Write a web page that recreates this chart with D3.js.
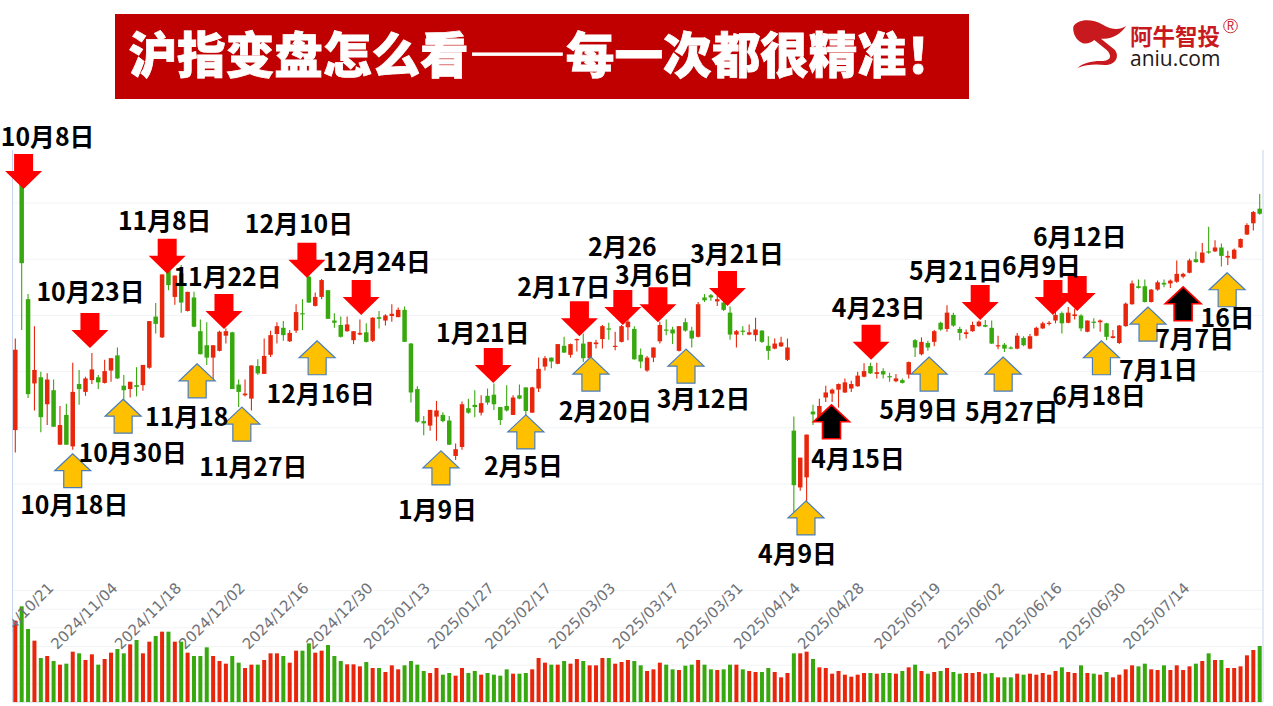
<!DOCTYPE html>
<html lang="zh">
<head>
<meta charset="utf-8">
<style>
html,body{margin:0;padding:0;background:#fff;overflow:hidden}
svg{display:block}
text{font-family:"Noto Sans CJK SC","Noto Sans",sans-serif}
</style>
<script src="https://cdn.jsdelivr.net/npm/d3@7/dist/d3.min.js"></script>
</head>
<body>
<svg id="chart" width="1273" height="706"></svg>
<script>
const titleText = "沪指变盘怎么看——每一次都很精准！";

const openValues = [3195,3674,3428,3278,3289,3241,3266,3169,3222,3166,
3277,3263,3284,3289,3279,3301,3328,3274,3268,3275,
3275,3306,3397,3360,3479,3432,3474,3407,3431,3371,
3346,3324,3336,3363,3369,3276,3257,3251,3309,3295,
3329,3366,3377,3353,3372,3403,3468,3416,3432,3444,
3390,3382,3371,3355,3365,3369,3354,3396,3390,3398,
3396,3409,3349,3268,3211,3203,3219,3222,3212,3149,
3165,3234,3240,3226,3256,3258,3236,3238,3222,3257,
3271,3226,3269,3308,3324,3313,3345,3329,3355,3349,
3323,3348,3357,3376,3344,3352,3378,3375,3329,3301,
3324,3353,3374,3374,3336,3387,3372,3361,3431,3435,
3424,3422,3404,3365,3372,3365,3364,3372,3345,3340,
3344,3320,3194,3093,3111,3228,3216,3253,3260,3267,
3262,3269,3273,3290,3309,3295,3300,3291,3282,3284,
3294,3355,3330,3350,3352,3386,3375,3400,3375,3366,
3371,3380,3382,3377,3344,3347,3342,3340,3359,3340,
3363,3376,3384,3390,3403,3386,3398,3399,3370,3388,
3387,3385,3359,3350,3380,3419,3451,3451,3423,3445,
3457,3456,3459,3468,3475,3499,3493,3513,3513,3520,
3502,3500,3520,3543,3563,3589];

const closeValues = [3338,3492,3259,3302,3218,3285,3201,3204,3169,3263,
3268,3287,3303,3280,3300,3323,3287,3266,3281,3272,
3311,3389,3384,3472,3453,3470,3422,3441,3379,3330,
3324,3346,3370,3371,3268,3263,3260,3310,3296,3327,
3364,3380,3364,3368,3405,3402,3422,3432,3462,3393,
3386,3361,3383,3371,3368,3352,3395,3393,3399,3402,
3409,3352,3262,3210,3207,3231,3230,3211,3169,3161,
3241,3226,3236,3243,3244,3241,3213,3230,3253,3251,
3229,3271,3304,3323,3317,3348,3333,3348,3357,3323,
3352,3351,3380,3374,3345,3380,3388,3321,3317,3324,
3342,3382,3372,3367,3380,3372,3358,3419,3426,3431,
3428,3409,3365,3371,3370,3369,3374,3352,3336,3349,
3351,3342,3097,3146,3187,3223,3238,3262,3267,3277,
3280,3277,3292,3300,3296,3298,3294,3289,3287,3279,
3316,3342,3352,3342,3371,3374,3404,3381,3368,3369,
3382,3388,3379,3349,3346,3340,3340,3363,3346,3362,
3377,3385,3386,3400,3385,3404,3401,3376,3390,3386,
3390,3361,3362,3381,3420,3456,3448,3423,3445,3458,
3454,3461,3473,3473,3497,3494,3511,3511,3520,3505,
3505,3516,3535,3560,3583,3580];

const highValues = [3358,3674,3437,3380,3299,3296,3285,3238,3242,3315,
3302,3290,3332,3293,3320,3323,3342,3293,3281,3307,
3311,3389,3421,3472,3486,3470,3489,3441,3441,3392,
3387,3346,3372,3376,3370,3285,3285,3310,3321,3358,
3372,3387,3389,3373,3419,3428,3471,3440,3464,3444,
3403,3397,3397,3371,3392,3385,3396,3407,3401,3419,
3413,3415,3350,3273,3220,3231,3247,3227,3220,3171,
3246,3251,3266,3257,3269,3278,3236,3275,3257,3276,
3271,3272,3324,3327,3324,3348,3361,3349,3358,3367,
3352,3356,3382,3386,3370,3382,3394,3380,3340,3327,
3342,3388,3392,3379,3380,3394,3379,3423,3437,3437,
3435,3426,3415,3373,3380,3383,3395,3373,3362,3358,
3361,3358,3219,3146,3187,3240,3251,3274,3269,3278,
3287,3283,3299,3314,3315,3315,3305,3297,3295,3287,
3317,3357,3360,3354,3373,3388,3417,3404,3379,3374,
3388,3390,3391,3390,3363,3350,3344,3368,3362,3366,
3379,3388,3389,3406,3406,3414,3411,3401,3390,3394,
3392,3386,3373,3382,3422,3461,3463,3463,3446,3461,
3463,3463,3497,3475,3500,3513,3528,3557,3533,3527,
3514,3518,3536,3563,3585,3615];

const lowValues = [3155,3373,3252,3230,3191,3204,3201,3169,3169,3160,
3240,3256,3277,3268,3278,3281,3286,3249,3253,3255,
3265,3304,3367,3359,3444,3418,3404,3406,3378,3330,
3311,3284,3335,3349,3268,3236,3255,3230,3293,3295,
3325,3349,3354,3352,3368,3373,3421,3415,3428,3393,
3377,3360,3370,3348,3364,3351,3352,3376,3381,3388,
3396,3352,3244,3208,3186,3194,3176,3209,3169,3142,
3160,3224,3218,3221,3240,3231,3204,3228,3222,3250,
3222,3226,3263,3301,3305,3312,3332,3324,3335,3316,
3323,3340,3340,3356,3337,3351,3355,3320,3305,3299,
3316,3349,3364,3348,3335,3370,3342,3360,3423,3425,
3416,3407,3356,3342,3364,3364,3353,3350,3320,3339,
3343,3318,3044,3087,3059,3204,3210,3245,3245,3235,
3261,3263,3272,3289,3295,3287,3287,3281,3280,3278,
3287,3325,3328,3336,3344,3372,3370,3379,3355,3358,
3370,3379,3378,3348,3339,3334,3339,3339,3344,3339,
3362,3375,3381,3385,3367,3385,3392,3371,3369,3376,
3370,3355,3358,3348,3379,3418,3447,3422,3422,3443,
3449,3448,3457,3465,3474,3493,3492,3509,3512,3486,
3489,3499,3519,3542,3550,3578];

const volumeValues = [244,287,219,184,132,138,123,112,115,151,
146,126,143,112,129,148,159,146,173,186,
146,181,198,211,211,181,181,148,138,138,
164,138,123,115,138,118,102,112,112,126,
146,146,138,118,154,154,176,148,154,171,
138,123,113,113,107,120,102,102,90,110,
98,110,123,112,93,87,102,82,87,79,
102,87,93,82,87,82,79,98,85,85,
87,98,132,118,112,112,123,115,129,123,
110,110,132,132,115,120,126,123,110,93,
98,118,112,98,96,109,112,126,112,98,
96,98,112,112,98,93,90,90,102,90,
74,87,146,146,151,129,104,102,85,93,
82,76,82,87,87,85,87,87,85,93,
104,112,93,85,90,93,102,90,85,87,
87,90,85,87,74,74,74,85,82,85,
82,87,82,93,104,90,87,110,87,85,
82,90,74,82,98,110,107,115,98,96,
110,96,110,96,107,115,123,146,126,126,
102,102,107,140,156,168];

const tickLabels = ["2024/10/21","2024/11/04","2024/11/18","2024/12/02","2024/12/16","2024/12/30","2025/01/13","2025/01/27","2025/02/17","2025/03/03","2025/03/17","2025/03/31","2025/04/14","2025/04/28","2025/05/19","2025/06/02","2025/06/16","2025/06/30","2025/07/14"];
const tickCandles = [10,20,30,40,50,60,69,79,88,98,108,118,127,137,149,159,168,178,188];
const priceTicks = [3100,3200,3300,3400,3500,3600];
const volumeTicks = [56,112,168,224,280,336];

// Annotations: name, which way the arrow points, candle position and price at its tip
const noteNames = ["10月8日","10月23日","11月8日","11月22日","12月10日","12月24日","1月21日","2月17日","2月26","3月6日","3月21日","4月23日","5月21日","6月9日","6月12日",
"10月18日","10月30日","11月18","11月27日","12月16日","1月9日","2月5日","2月20日","3月12日","4月9日","5月9日","5月27日","6月18日","7月1日","16日","7月7日","4月15日"];
const noteKinds = ["sell","sell","sell","sell","sell","sell","sell","sell","sell","sell","sell","sell","sell","sell","sell",
"buy","buy","buy","buy","buy","buy","buy","buy","buy","buy","buy","buy","buy","buy","buy","hold","hold"];
const noteCandles = [1.3,11.7,23.8,32.7,45.7,54.2,74.9,88.4,95.2,100.7,111.6,134.1,151.2,162.6,166.4,
9,16.9,28.5,35.5,47.3,66.7,80,90.2,105.1,123.9,143.2,154.8,170.2,177.5,189.9,183,127.9];
const notePrices = [3624,3341,3473,3375,3466,3400,3279,3362,3382,3387,3416,3320,3391,3400,3407,
3153,3250,3313,3236,3354,3158,3222,3325,3339,3069,3325,3325,3354,3414,3475,3450,3240];
const noteDx = [24,0.5,-2.5,3.5,-8,15.5,-10.5,-15.5,-0.5,-3.5,9.5,7.5,-24.5,-11.5,2.5,
1.5,9.5,-10.5,11.5,3.5,-3.5,-2.5,14.5,17.5,-8.5,-10.5,8.5,-2.5,10.5,0.5,11.5,26.5];
const noteDy = [-54,-58.5,-54.5,-53.5,-55.5,-54.5,-51.5,-51.5,-80.5,-49.5,-53.5,-53.5,-50.5,-50.5,-75.5,
49.5,51.5,51.5,57.5,51.5,57.5,49.5,51.5,47.5,51.5,50.5,52.5,53.5,60.5,43.5,50.5,52.5];

const RED = "#e8260c", GREEN = "#38a80f", PLOT_L = 12.5, PLOT_R = 1263;
const svg = d3.select("#chart");
const indices = d3.range(openValues.length);

const x = d3.scaleLinear().domain([0, openValues.length - 1]).range([15.3, 1259.7]);
const yPrice = d3.scaleLinear().domain([3100, 3600]).range([483.5, 202.5]);
const yVolume = d3.scaleLinear().domain([0, 300]).range([702, 602]);
const colorOf = i => closeValues[i] >= openValues[i] ? RED : GREEN;

svg.append("rect").attr("width",1273).attr("height",706).attr("fill","#fff");

// title band
svg.append("rect").attr("x",115).attr("y",14).attr("width",854).attr("height",85).attr("fill","#c00000");
svg.append("text").attr("x",128.5).attr("y",72.5).attr("fill","#fff").attr("font-size",48.6)
  .attr("font-weight",900).attr("stroke","#fff").attr("stroke-width",0.8).text(titleText);

// logo
const logo = svg.append("g").attr("transform","translate(1040,0) scale(0.3333)");
logo.append("path").attr("fill","#c8191f")
  .attr("d","M100,80 C110,60 150,52 190,75 C215,90 240,90 258,78 C245,100 215,120 183,116 L225,150 C240,172 225,195 195,195 C170,192 140,192 113,204 C130,188 155,182 190,183 C215,180 215,165 200,150 L163,120 C150,130 135,135 120,125 C105,115 98,95 100,80 Z");
svg.append("text").attr("x",1130).attr("y",45).attr("font-size",22.5).attr("font-weight",700).attr("fill","#c8191f").text("阿牛智投");
svg.append("circle").attr("cx",1230.5).attr("cy",26).attr("r",6.8).attr("fill","none").attr("stroke","#c8191f").attr("stroke-width",0.9);
svg.append("text").attr("x",1230.5).attr("y",30.2).attr("text-anchor","middle").attr("font-size",11.5).attr("fill","#c8191f").text("R");
svg.append("text").attr("x",1130).attr("y",66).attr("font-size",21).attr("fill","#231815")
  .style("font-family","'Open Sans',sans-serif").text("aniu.com");

// grid lines via axes
const gridStyle = g => {
  g.select(".domain").remove();
  g.selectAll("text").remove();
  g.selectAll("line").attr("stroke","#f1f3f5").attr("stroke-width",1);
};
svg.append("g").attr("transform",`translate(${PLOT_L},0)`)
  .call(d3.axisLeft(yPrice).tickValues(priceTicks).tickSize(-(PLOT_R-PLOT_L))).call(gridStyle);
svg.append("g").attr("transform",`translate(${PLOT_L},0)`)
  .call(d3.axisLeft(yVolume).tickValues(volumeTicks).tickSize(-(PLOT_R-PLOT_L))).call(gridStyle);

// frame lines
svg.append("g").attr("stroke","#c9d5ea").attr("stroke-width",1).selectAll("line")
  .data([[PLOT_L,150,PLOT_L,702],[PLOT_R,150,PLOT_R,702],[PLOT_L,702,PLOT_R,702]]).join("line")
  .attr("x1",d=>d[0]).attr("y1",d=>d[1]).attr("x2",d=>d[2]).attr("y2",d=>d[3]);

// volume
svg.append("g").selectAll("rect").data(indices).join("rect")
  .attr("x",i=>x(i)-2).attr("width",4)
  .attr("y",i=>yVolume(volumeValues[i])).attr("height",i=>yVolume(0)-yVolume(volumeValues[i]))
  .attr("fill",colorOf);

// candles
const candles = svg.append("g");
candles.selectAll("line").data(indices).join("line")
  .attr("x1",i=>x(i)).attr("x2",i=>x(i))
  .attr("y1",i=>yPrice(highValues[i])).attr("y2",i=>yPrice(lowValues[i]))
  .attr("stroke",colorOf).attr("stroke-width",1.1);
candles.selectAll("rect").data(indices).join("rect")
  .attr("x",i=>x(i)-2.25).attr("width",4.5)
  .attr("y",i=>yPrice(Math.max(openValues[i],closeValues[i])))
  .attr("height",i=>Math.max(1.2,Math.abs(yPrice(openValues[i])-yPrice(closeValues[i]))))
  .attr("fill",colorOf);

// date axis: rotated labels, clipped at the left edge of the plot
svg.append("defs").append("clipPath").attr("id","plotClip")
  .append("rect").attr("x",PLOT_L).attr("y",0).attr("width",PLOT_R-PLOT_L).attr("height",706);
const dateAxis = svg.append("g").attr("clip-path","url(#plotClip)").append("g")
  .attr("transform","translate(0,583)")
  .call(d3.axisBottom(x).tickValues(tickCandles).tickFormat((d,i)=>tickLabels[i]).tickSize(0));
dateAxis.select(".domain").remove();
dateAxis.selectAll("text")
  .attr("x",0).attr("y",0).attr("dy",0)
  .attr("text-anchor","end")
  .attr("transform","translate(-25,6) rotate(-45)")
  .attr("fill","#6f7278").attr("font-size",15)
  .style("font-family","'DejaVu Sans',sans-serif");

// annotation arrows
const arrowPath = kind => kind === "sell"
  ? "M0,0 L-18.5,-18 L-9.5,-18 L-9.5,-35 L9.5,-35 L9.5,-18 L18.5,-18 Z"
  : "M0,0 L-18,17 L-9,17 L-9,34 L9,34 L9,17 L18,17 Z";
const arrowFill = {sell:"#ff0000",buy:"#ffc000",hold:"#000000"};
const arrowStroke = {sell:"none",buy:"#4a7ebb",hold:"#ff0000"};
const arrowWidth = {sell:0,buy:1.2,hold:1.6};
const notes = d3.range(noteNames.length);
svg.append("g").selectAll("path").data(notes).join("path")
  .attr("transform",i=>`translate(${x(noteCandles[i])},${yPrice(notePrices[i])})`)
  .attr("d",i=>arrowPath(noteKinds[i]))
  .attr("fill",i=>arrowFill[noteKinds[i]])
  .attr("stroke",i=>arrowStroke[noteKinds[i]])
  .attr("stroke-width",i=>arrowWidth[noteKinds[i]]);
svg.append("g").selectAll("text").data(notes).join("text")
  .attr("x",i=>x(noteCandles[i])+noteDx[i])
  .attr("y",i=>yPrice(notePrices[i])+noteDy[i])
  .attr("text-anchor","middle").attr("dominant-baseline","central")
  .attr("font-size",24.8).attr("font-weight",700).attr("fill","#000")
  .text(i=>noteNames[i]);
</script>
</body>
</html>
